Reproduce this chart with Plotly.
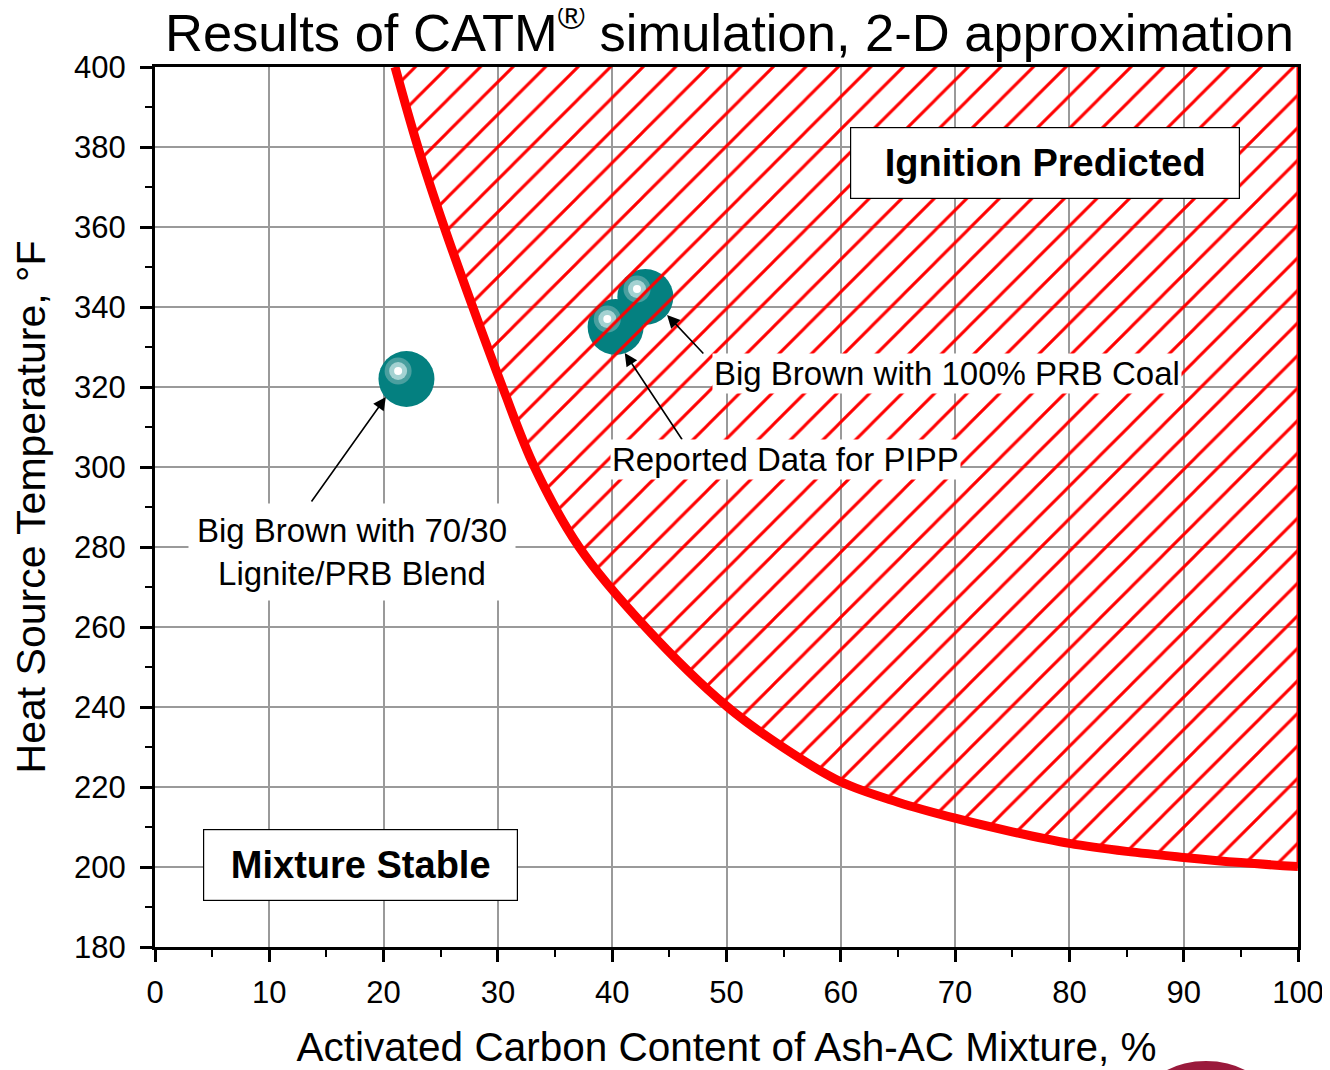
import plotly.graph_objects as go

# Boundary curve (x = % activated carbon, y = deg F)
curve_x = [21.0, 23.0, 25.3, 27.8, 30.4, 33.2, 37.1, 42.9, 50.1, 55, 60, 65, 70, 75, 80, 85, 90, 95, 100]
curve_y = [400, 380, 360, 340, 320, 300, 280, 260, 240, 229.8, 221.3, 216.2, 212.2, 208.8, 205.9, 203.9, 202.4, 201.1, 200.1]

# Data points shown as spheres
point_x = [22.0, 40.3, 42.9]
point_y = [322, 335, 342.5]

title_text = "Results of CATM<sup>®</sup> simulation, 2-D approximation"
x_title = "Activated Carbon Content of Ash-AC Mixture, %"
y_title = "Heat Source Temperature, °F"

FONT = "Liberation Sans, Arial, sans-serif"
OFF = 8  # page body margin
W, H = 1330 - OFF, 1070 - OFF
L, T = 155 - OFF, 67 - OFF
R, B = W - (1298 - OFF), H - (947 - OFF)
PW, PH = W - L - R, H - T - B

fig = go.Figure()

# spheres on the base axes
fig.add_trace(go.Scatter(x=point_x, y=point_y, mode="markers",
                         marker=dict(size=56, color="#048080", line=dict(width=0)),
                         hoverinfo="skip"))
# highlights, offset up-left from each sphere
hx = [v - 0.73 for v in point_x]
hy = [v + 2.0 for v in point_y]
for size, col in [(27, "#4a9f9f"), (18, "#a4d2d2"), (8, "#ffffff")]:
    fig.add_trace(go.Scatter(x=hx, y=hy, mode="markers",
                             marker=dict(size=size, color=col, line=dict(width=0)),
                             hoverinfo="skip"))

# hatched "ignition" region on an overlay axis so it sits over the spheres
fig.add_trace(go.Scatter(x=curve_x + [100], y=curve_y + [400],
                         xaxis="x2", yaxis="y2",
                         mode="lines", fill="toself",
                         fillcolor="rgba(0,0,0,0)",
                         fillpattern=dict(shape="/", fgcolor="#ff0000", fgopacity=1,
                                          bgcolor="rgba(0,0,0,0)", size=23, solidity=0.13),
                         line=dict(color="#ff0000", width=3),
                         hoverinfo="skip"))

# boundary curve
fig.add_trace(go.Scatter(x=curve_x, y=curve_y, mode="lines",
                         xaxis="x2", yaxis="y2",
                         line=dict(color="#ff0000", width=9, shape="spline"),
                         hoverinfo="skip"))

ann = []
# arrows
for (x, y, ax, ay) in [(44.8, 338, 48.1, 328), (41.1, 328.5, 46.2, 306.5), (20.2, 317.5, 13.6, 291)]:
    ann.append(dict(x=x, y=y, ax=ax, ay=ay, xref="x", yref="y", axref="x", ayref="y",
                    text="", showarrow=True, arrowhead=2, arrowsize=1.6, arrowwidth=1.6,
                    arrowcolor="black"))
# labels
lab_font = dict(family=FONT, size=33, color="black")
ann.append(dict(x=48.7, y=323.3, xref="x", yref="y", text="Big Brown with 100% PRB Coal",
                showarrow=False, xanchor="left", yanchor="middle", font=lab_font,
                bgcolor="white", borderpad=1))
ann.append(dict(x=39.8, y=302, xref="x", yref="y", text="Reported Data for PIPP",
                showarrow=False, xanchor="left", yanchor="middle", font=lab_font,
                bgcolor="white", borderpad=1))
ann.append(dict(x=17.2, y=278.8, xref="x", yref="y",
                text="Big Brown with 70/30<br>Lignite/PRB Blend",
                showarrow=False, xanchor="center", yanchor="middle", font=lab_font,
                bgcolor="white", borderpad=8))
# region boxes
box_font = dict(family=FONT, size=38, color="black")
ann.append(dict(x=77.9, y=376, xref="x", yref="y", text="<b>Ignition Predicted</b>",
                showarrow=False, font=box_font, bgcolor="white", bordercolor="black",
                borderwidth=1.2, width=386, height=68))
ann.append(dict(x=18.0, y=200.5, xref="x", yref="y", text="<b>Mixture Stable</b>",
                showarrow=False, font=box_font, bgcolor="white", bordercolor="black",
                borderwidth=1.2, width=311, height=68))

fig.update_layout(
    width=W, height=H,
    margin=dict(l=L, r=R, t=T, b=B),
    paper_bgcolor="white", plot_bgcolor="white",
    showlegend=False,
    font=dict(family=FONT, color="black"),
    title=dict(text=title_text, x=(729.5 - OFF) / W, xanchor="center",
               y=1 - (33 - OFF) / H, yanchor="middle",
               font=dict(family=FONT, size=52.5, color="black")),
    annotations=ann,
    shapes=[dict(type="circle", xref="paper", yref="paper",
                 x0=(1150 - 155) / PW, x1=(1262 - 155) / PW,
                 y0=(947 - 1125) / PH, y1=(947 - 1061) / PH,
                 fillcolor="#9a1a3c", line=dict(width=0), layer="above")],
    xaxis2=dict(overlaying="x", range=[0, 100], visible=False),
    yaxis2=dict(overlaying="y", range=[180, 400], visible=False),
)

axis_common = dict(showline=True, linecolor="black", linewidth=3, mirror=True,
                   ticks="outside", ticklen=12, tickwidth=3, tickcolor="black",
                   showgrid=True, gridcolor="#9a9a9a", gridwidth=1.5,
                   zeroline=False, automargin=False,
                   tickfont=dict(family=FONT, size=31, color="black"))

fig.update_layout(
    xaxis=dict(range=[0, 100], dtick=10, tick0=0, ticklabelstandoff=4,
               title=dict(text=x_title, font=dict(family=FONT, size=40.5), standoff=27),
               minor=dict(dtick=5, ticks="outside", ticklen=7, tickwidth=2,
                          tickcolor="black", showgrid=False),
               **axis_common),
    yaxis=dict(range=[180, 400], dtick=20, tick0=180, ticklabelstandoff=8,
               title=dict(text=y_title, font=dict(family=FONT, size=41), standoff=19),
               minor=dict(dtick=10, ticks="outside", ticklen=7, tickwidth=2,
                          tickcolor="black", showgrid=False),
               **axis_common),
)

fig.write_html("out.html")
